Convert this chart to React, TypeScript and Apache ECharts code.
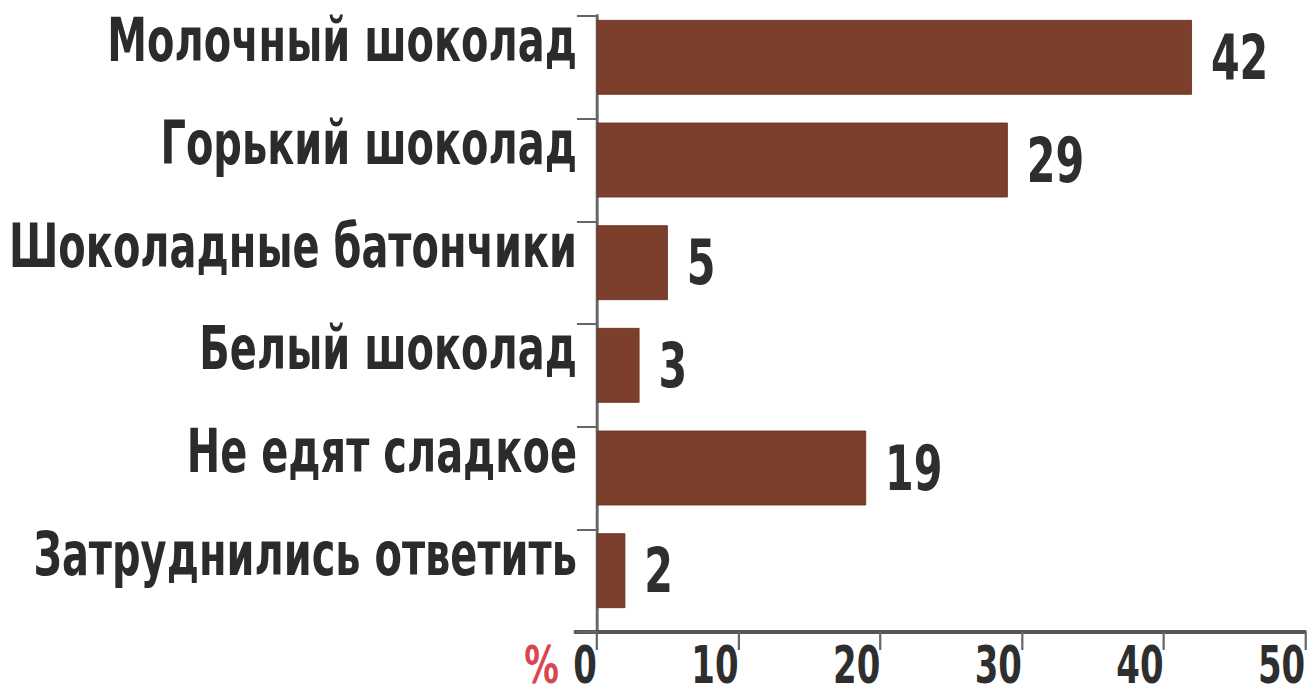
import React, { useEffect, useRef } from "react";
import * as echarts from "echarts";

const categories = [
  "Молочный шоколад",
  "Горький шоколад",
  "Шоколадные батончики",
  "Белый шоколад",
  "Не едят сладкое",
  "Затруднились ответить",
];
const values = [42, 29, 5, 3, 19, 2];
const spacer = [0, 0, 0, 0, 0, 0];
const xTicks = [0, 10, 20, 30, 40, 50];

const FONT = "'DejaVu Sans Condensed', 'DejaVu Sans', sans-serif";
// the reference uses a narrow typeface; the chart is drawn wider and squeezed horizontally
const SX = 0.74;
const W = 1314 / SX;
const H = 695;
const px = (v: number) => v / SX;

export default function App() {
  const ref = useRef<HTMLDivElement>(null);
  useEffect(() => {
    if (!ref.current) return;
    const chart = echarts.init(ref.current, undefined, { renderer: "svg" });
    chart.setOption({
      animation: false,
      backgroundColor: "#ffffff",
      grid: {
        left: px(575),
        right: px(9),
        top: 16,
        bottom: 63,
        containLabel: false,
        outerBoundsMode: "none",
      },
      xAxis: {
        type: "value",
        min: -1.55,
        max: 50,
        name: "%",
        nameLocation: "start",
        nameGap: px(16),
        nameTextStyle: {
          color: "#d9464f",
          fontSize: 52,
          fontFamily: FONT,
          fontWeight: "bold",
          align: "right",
          verticalAlign: "top",
          lineHeight: 66,
        },
        axisLine: { show: true, lineStyle: { color: "#555", width: 4 } },
        axisTick: {
          show: true,
          customValues: xTicks,
          length: 18,
          lineStyle: { color: "#666", width: 3 },
        },
        axisLabel: {
          customValues: xTicks,
          align: "right",
          margin: 13,
          lineHeight: 40,
          fontSize: 51,
          fontFamily: FONT,
          fontWeight: "bold",
          color: "#2e2e2e",
        },
        splitLine: { show: false },
      },
      yAxis: {
        type: "category",
        inverse: true,
        data: categories,
        axisLine: { show: true, onZero: true, lineStyle: { color: "#666", width: 4 } },
        axisTick: { show: true, length: px(20), lineStyle: { color: "#666", width: 2 } },
        axisLabel: {
          margin: px(-2),
          fontSize: 60,
          fontFamily: FONT,
          fontWeight: "bold",
          color: "#2b2b2b",
          verticalAlign: "bottom",
          lineHeight: 54,
        },
        splitLine: { show: false },
      },
      series: [
        {
          type: "bar",
          data: values,
          barWidth: 75,
          barGap: "0%",
          itemStyle: { color: "#7c3f2c", borderColor: "#6b3222", borderWidth: 1 },
          label: {
            show: true,
            position: "right",
            distance: px(19),
            fontSize: 62,
            fontFamily: FONT,
            fontWeight: "bold",
            color: "#2e2e2e",
          },
        },
        {
          type: "bar",
          data: spacer,
          barWidth: 20,
          barGap: "0%",
          silent: true,
          itemStyle: { color: "transparent" },
          label: { show: false },
        },
      ],
    });
    return () => chart.dispose();
  }, []);
  return (
    <div
      style={{
        position: "fixed",
        left: 0,
        top: 0,
        width: 1314,
        height: H,
        overflow: "hidden",
        background: "#fff",
      }}
    >
      <div
        ref={ref}
        style={{
          width: W,
          height: H,
          transform: `scaleX(${SX})`,
          transformOrigin: "0 0",
        }}
      />
    </div>
  );
}
